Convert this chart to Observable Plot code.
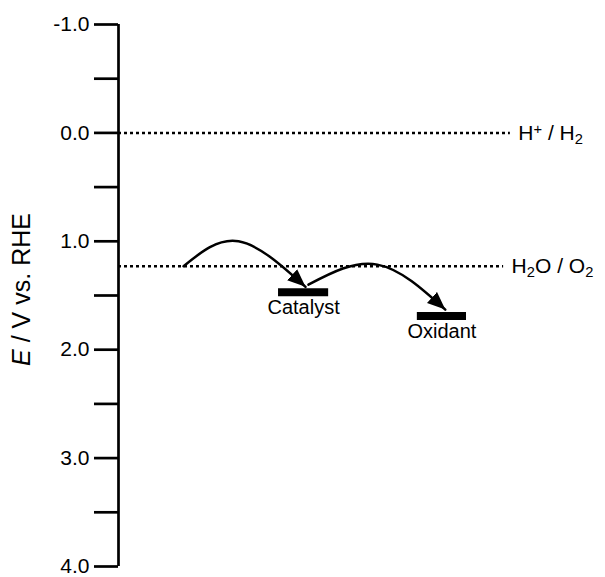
<!DOCTYPE html>
<html><head><meta charset="utf-8">
<script src="https://cdn.jsdelivr.net/npm/d3@7"></script>
<script src="https://cdn.jsdelivr.net/npm/@observablehq/plot@0.6"></script>
<style>
body{margin:0;background:#fff;}
#chart svg{display:block;font-family:"Liberation Sans",Arial,Helvetica,sans-serif;color:#000;}
</style></head><body><div id="chart"></div>
<script>
// ---- data ----
const yDomain = [-1, 4];
const tickValues = [-1, -0.5, 0, 0.5, 1, 1.5, 2, 2.5, 3, 3.5, 4];
const yLabel = "E / V vs. RHE";

const couples = ["H⁺ / H₂", "H₂O / O₂"];
const coupleE = [0, 1.23];
const coupleEnd = [81.3, 79.9];

const species = ["Catalyst", "Oxidant"];
const speciesE = [1.47, 1.69];
const speciesX1 = [33.2, 62.0];
const speciesX2 = [43.6, 72.2];

const arrow1X = [13.5, 24.9, 38.8];
const arrow1E = [1.23, 1.0, 1.42];
const arrow2X = [39.4, 53.7, 67.8];
const arrow2E = [1.40, 1.215, 1.63];

// ---- tables ----
const coupleData = couples.map((label, i) => ({label, E: coupleE[i], x2: coupleEnd[i]}));
const speciesData = species.map((label, i) => ({label, E: speciesE[i], x1: speciesX1[i], x2: speciesX2[i], xm: (speciesX1[i] + speciesX2[i]) / 2}));
const arrows = [
  ...arrow1X.map((x, i) => ({id: 1, x, E: arrow1E[i]})),
  ...arrow2X.map((x, i) => ({id: 2, x, E: arrow2E[i]}))
];

function arrowHead(color) {
  const m = d3.create("svg:marker")
    .attr("viewBox", "-18 -7.5 18 15")
    .attr("markerWidth", 18).attr("markerHeight", 15)
    .attr("markerUnits", "userSpaceOnUse")
    .attr("orient", "auto").attr("refX", 0).attr("refY", 0);
  m.append("path").attr("d", "M-18,-7.5L0,0L-18,7.5Z").attr("fill", color).attr("stroke", "none");
  return m.node();
}

const chart = Plot.plot({
  width: 605, height: 577,
  marginLeft: 118, marginRight: 5, marginTop: 24, marginBottom: 11,
  x: {domain: [0, 100], axis: null},
  y: {domain: yDomain, reverse: true},
  marks: [
    Plot.axisY({ticks: tickValues, tickSize: 24, tickPadding: 5, strokeWidth: 2.7, fontSize: 21,
      tickFormat: d => Number.isInteger(d) ? d.toFixed(1) : "", label: null}),
    Plot.ruleX([0], {y1: yDomain[0], y2: yDomain[1], strokeWidth: 2.7}),
    Plot.ruleY(coupleData, {y: "E", x1: 0, x2: "x2", strokeWidth: 2.5, strokeDasharray: "3,3"}),
    Plot.text(coupleData, {y: "E", x: "x2", text: "label", textAnchor: "start", dx: 8, fontSize: 21}),
    Plot.ruleY(speciesData, {y: "E", x1: "x1", x2: "x2", strokeWidth: 8}),
    Plot.text(speciesData, {y: "E", x: "xm", text: "label", lineAnchor: "top", dy: 8, fontSize: 20}),
    Plot.line(arrows, {x: "x", y: "E", z: "id", curve: "natural", strokeWidth: 2.5, markerEnd: arrowHead}),
    Plot.text([yLabel], {frameAnchor: "left", textAnchor: "middle", lineAnchor: "middle", rotate: -90, dx: -97, dy: -6, fontSize: 25, text: d => d})
  ]
});
document.getElementById("chart").appendChild(chart);

// rich text: italic E, sub/superscripts
const NS = "http://www.w3.org/2000/svg";
chart.querySelectorAll("text").forEach(t => {
  const s = t.textContent;
  if (s === yLabel) {
    t.textContent = "";
    const a = document.createElementNS(NS, "tspan"); a.setAttribute("font-style", "italic"); a.textContent = "E";
    const b = document.createElementNS(NS, "tspan"); b.textContent = s.slice(1);
    t.append(a, b);
  } else if (/[₂⁺]/.test(s)) {
    t.textContent = "";
    let buf = "";
    const flush = () => { if (buf) { const n = document.createElementNS(NS, "tspan"); n.textContent = buf; t.append(n); buf = ""; } };
    for (const ch of s) {
      if (ch === "₂" || ch === "⁺") {
        flush();
        const n = document.createElementNS(NS, "tspan");
        n.textContent = ch === "₂" ? "2" : "+";
        n.setAttribute("font-size", "70%");
        n.setAttribute("baseline-shift", ch === "₂" ? "-25%" : "40%");
        t.append(n);
      } else buf += ch;
    }
    flush();
  }
});
</script></body></html>
